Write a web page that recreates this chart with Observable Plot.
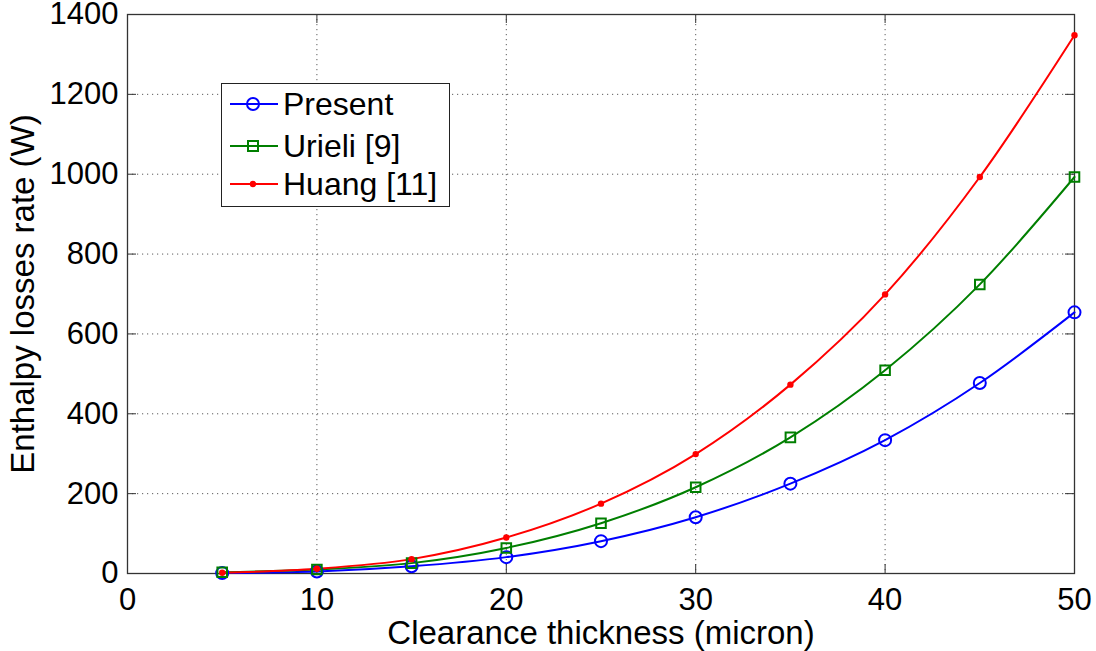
<!DOCTYPE html>
<html>
<head>
<meta charset="utf-8">
<script src="https://cdn.jsdelivr.net/npm/d3@7"></script>
<script src="https://cdn.jsdelivr.net/npm/@observablehq/plot@0.6"></script>
<style>
  body { margin: 0; background: #fff; }
  #wrap { position: relative; width: 1096px; height: 651px; }
  #legend {
    position: absolute; left: 221px; top: 83px; width: 229px; height: 124px;
    border: 1.5px solid #222; background: #fff; box-sizing: border-box;
    font-family: "Liberation Sans", Arial, sans-serif; font-size: 32px; color: #000;
  }
  .row { position: absolute; left: 0; height: 40px; display: flex; align-items: center; }
  .row svg { margin-left: 7px; margin-right: 4px; }
</style>
</head>
<body>
<div id="wrap"><div id="legend"></div></div>
<script>
const thickness = [5, 10, 15, 20, 25, 30, 35, 40, 45, 50];
const present = [1, 5, 18, 41, 81, 141, 225, 334, 477, 654];
const urieli  = [3, 10, 26, 64, 126, 216, 341, 509, 724, 993];
const huang   = [2, 12, 36, 90, 175, 299, 473, 699, 993, 1348];
const seriesNames = ["Present", "Urieli [9]", "Huang [11]"];
const seriesColors = ["#0000ff", "#007f00", "#ff0000"];
const xTicks = [0, 10, 20, 30, 40, 50];
const yTicks = [0, 200, 400, 600, 800, 1000, 1200, 1400];

const W = 1096, H = 651, mL = 127, mR = 22, mT = 14, mB = 78;
const pw = W - mL - mR, ph = H - mT - mB;
const tk = 9;

const rows = (vals, name) => thickness.map((x, i) => ({x, y: vals[i], name}));
const pData = rows(present, seriesNames[0]);
const uData = rows(urieli, seriesNames[1]);
const hData = rows(huang, seriesNames[2]);

const gridStyle = {stroke: "#333", strokeOpacity: 0.8, strokeDasharray: "1.2,3.8", strokeWidth: 1};

const chart = Plot.plot({
  width: W, height: H,
  marginLeft: mL, marginRight: mR, marginTop: mT, marginBottom: mB,
  style: {fontFamily: "'Liberation Sans', Arial, sans-serif", fontSize: "31px", color: "#000", background: "#fff"},
  x: {domain: [0, 50]},
  y: {domain: [0, 1400]},
  marks: [
    Plot.gridX(xTicks.slice(1, -1), gridStyle),
    Plot.gridY(yTicks.slice(1, -1), gridStyle),
    Plot.tickY(yTicks, {y: d => d, insetRight: pw - tk, stroke: "#333"}),
    Plot.tickY(yTicks, {y: d => d, insetLeft: pw - tk, stroke: "#333"}),
    Plot.tickX(xTicks, {x: d => d, insetTop: ph - tk, stroke: "#333"}),
    Plot.tickX(xTicks, {x: d => d, insetBottom: ph - tk, stroke: "#333"}),
    Plot.frame({stroke: "#333", strokeWidth: 1.3}),
    Plot.axisX(xTicks, {tickSize: 0, tickPadding: 14, fontSize: 31, tickFormat: d => String(d),
      label: "Clearance thickness (micron)", labelAnchor: "center", labelOffset: 70, labelArrow: false}),
    Plot.axisY(yTicks, {tickSize: 0, tickPadding: 9, fontSize: 31, tickFormat: d => String(d),
      label: "Enthalpy losses rate (W)", labelAnchor: "center", labelOffset: 117, labelArrow: false}),
    Plot.line(pData, {x: "x", y: "y", stroke: seriesColors[0], strokeWidth: 2, curve: "monotone-x"}),
    Plot.line(uData, {x: "x", y: "y", stroke: seriesColors[1], strokeWidth: 2, curve: "monotone-x"}),
    Plot.line(hData, {x: "x", y: "y", stroke: seriesColors[2], strokeWidth: 2, curve: "monotone-x"}),
    Plot.dot(pData, {x: "x", y: "y", r: 6, stroke: seriesColors[0], strokeWidth: 2, fill: "none"}),
    Plot.dot(uData, {x: "x", y: "y", r: 5.4, symbol: "square", stroke: seriesColors[1], strokeWidth: 2, fill: "none"}),
    Plot.dot(hData, {x: "x", y: "y", r: 3.2, fill: seriesColors[2], stroke: "none"})
  ]
});
// enlarge axis titles slightly
chart.querySelectorAll("g[aria-label='x-axis label'] text, g[aria-label='y-axis label'] text")
  .forEach(t => t.setAttribute("font-size", "33"));
const wrap = document.getElementById("wrap");
wrap.insertBefore(chart, wrap.firstChild);

// legend
const legend = document.getElementById("legend");
const rowTops = [0, 42, 80];
const markerSvg = [
  c => `<circle cx="24" cy="10" r="6" fill="none" stroke="${c}" stroke-width="2"/>`,
  c => `<rect x="19" y="5" width="10" height="10" fill="none" stroke="${c}" stroke-width="2"/>`,
  c => `<circle cx="24" cy="10" r="3.2" fill="${c}"/>`
];
seriesNames.forEach((name, i) => {
  const row = document.createElement("div");
  row.className = "row";
  row.style.top = rowTops[i] + "px";
  row.innerHTML = `<svg width="50" height="20"><line x1="1" x2="49" y1="10" y2="10" stroke="${seriesColors[i]}" stroke-width="2"/>${markerSvg[i](seriesColors[i])}</svg><span>${name}</span>`;
  legend.appendChild(row);
});
</script>
</body>
</html>
